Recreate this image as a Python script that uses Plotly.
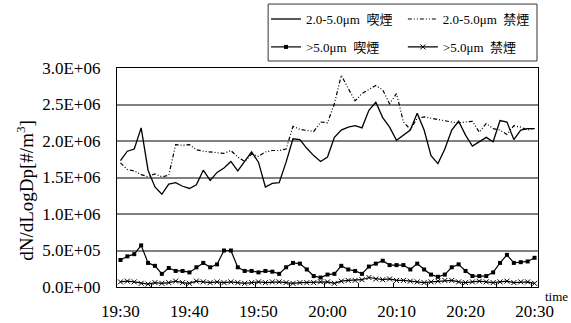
import plotly.graph_objects as go

# Time axis: one reading per minute from 19:30 to 20:30
minutes = list(range(61))
label_minutes = list(range(0, 61, 10))
tick_labels = [f"{19 + (30 + m) // 60}:{(30 + m) % 60:02d}" for m in label_minutes]
boundary_ticks = [m - 0.5 for m in range(5, 61, 5)]

UNIT = 1e6  # values below are in millions of particles

# 2.0-5.0 um, smoking
smoking_2_5 = [1.73, 1.86, 1.89, 2.18, 1.60, 1.37, 1.27, 1.41, 1.43, 1.38,
               1.35, 1.40, 1.60, 1.46, 1.57, 1.63, 1.72, 1.59, 1.72, 1.85,
               1.71, 1.37, 1.42, 1.43, 1.71, 2.03, 2.02, 1.90, 1.80, 1.72,
               1.78, 2.05, 2.15, 2.19, 2.21, 2.18, 2.42, 2.53, 2.32, 2.19,
               2.01, 2.08, 2.15, 2.38, 2.15, 1.80, 1.69, 1.89, 2.15, 2.27,
               2.08, 1.93, 1.99, 2.05, 1.99, 2.28, 2.26, 2.02, 2.15, 2.17,
               2.17]
# 2.0-5.0 um, no smoking
nonsmoking_2_5 = [1.70, 1.61, 1.59, 1.54, 1.51, 1.55, 1.51, 1.53, 1.95, 1.94,
                  1.95, 1.88, 1.86, 1.85, 1.83, 1.83, 1.87, 1.78, 1.72, 1.82,
                  1.79, 1.85, 1.87, 1.87, 1.89, 2.20, 2.16, 2.14, 2.13, 2.26,
                  2.25, 2.51, 2.90, 2.72, 2.55, 2.65, 2.71, 2.76, 2.70, 2.51,
                  2.65, 2.26, 2.16, 2.31, 2.33, 2.31, 2.29, 2.27, 2.26, 2.25,
                  2.26, 2.27, 2.12, 2.24, 2.17, 2.15, 2.09, 2.21, 2.19, 2.15,
                  2.17]
# >5.0 um, smoking
smoking_5 = [0.37, 0.42, 0.45, 0.57, 0.33, 0.29, 0.18, 0.26, 0.22, 0.22,
             0.20, 0.27, 0.33, 0.27, 0.31, 0.50, 0.50, 0.27, 0.22, 0.22,
             0.20, 0.22, 0.21, 0.18, 0.27, 0.33, 0.32, 0.24, 0.15, 0.13,
             0.17, 0.18, 0.29, 0.24, 0.22, 0.18, 0.28, 0.32, 0.36, 0.30,
             0.30, 0.30, 0.24, 0.32, 0.24, 0.17, 0.14, 0.17, 0.27, 0.31,
             0.22, 0.15, 0.15, 0.15, 0.20, 0.33, 0.44, 0.33, 0.34, 0.35,
             0.40]
# >5.0 um, no smoking
nonsmoking_5 = [0.07, 0.08, 0.07, 0.05, 0.04, 0.06, 0.05, 0.06, 0.08, 0.06,
                0.05, 0.08, 0.07, 0.06, 0.07, 0.06, 0.07, 0.06, 0.05, 0.06,
                0.07, 0.06, 0.07, 0.07, 0.06, 0.05, 0.06, 0.06, 0.06, 0.07,
                0.07, 0.05, 0.08, 0.09, 0.09, 0.10, 0.13, 0.11, 0.10, 0.11,
                0.09, 0.09, 0.08, 0.07, 0.06, 0.07, 0.08, 0.09, 0.09, 0.07,
                0.06, 0.07, 0.08, 0.07, 0.06, 0.07, 0.08, 0.06, 0.07, 0.07,
                0.05]

y_ticks = [v * 0.5 * UNIT for v in range(7)]
y_labels = [f"{v:.1E}" for v in y_ticks]

FONT = "Liberation Serif, DejaVu Serif, Noto Sans CJK JP, serif"
SP = "\u00a0\u00a0"

def scaled(values):
    return [v * UNIT for v in values]

fig = go.Figure()
fig.add_trace(go.Scatter(
    x=minutes, y=scaled(smoking_2_5), mode="lines",
    name=f"2.0-5.0μm{SP}喫煙", legend="legend", legendgroup="a",
    line=dict(color="black", width=1.3)))
fig.add_trace(go.Scatter(
    x=minutes, y=scaled(smoking_5), mode="lines+markers",
    name=f">5.0μm{SP}喫煙", legend="legend", legendgroup="b",
    line=dict(color="black", width=1.2),
    marker=dict(symbol="square", size=4, color="black")))
fig.add_trace(go.Scatter(
    x=minutes, y=scaled(nonsmoking_2_5), mode="lines",
    name=f"2.0-5.0μm{SP}禁煙", legend="legend2", legendgroup="c",
    line=dict(color="black", width=1.2, dash="4px,2px,1px,2px,1px,2px")))
fig.add_trace(go.Scatter(
    x=minutes, y=scaled(nonsmoking_5), mode="lines+markers",
    name=f">5.0μm{SP}禁煙", legend="legend2", legendgroup="d",
    line=dict(color="black", width=1.2),
    marker=dict(symbol="x-thin", size=5, color="black",
                line=dict(color="black", width=1))))

legend_style = dict(
    orientation="v", xanchor="left", yanchor="top", y=1.292,
    bgcolor="rgba(0,0,0,0)", borderwidth=0,
    font=dict(family=FONT, size=13, color="black"),
    traceorder="grouped", tracegroupgap=8, itemwidth=30,
)
tick_font = dict(family=FONT, size=17, color="black")

fig.update_layout(
    width=571, height=323,
    margin=dict(l=117, r=33, t=68, b=36, autoexpand=False),
    paper_bgcolor="white", plot_bgcolor="white",
    font=dict(family=FONT, size=17, color="black"),
    showlegend=True,
    legend=dict(x=0.354, **legend_style),
    legend2=dict(x=0.679, **legend_style),
    xaxis=dict(
        range=[-0.5, 60.5], tickmode="array", tickvals=label_minutes,
        ticktext=tick_labels, ticks="", showgrid=False, zeroline=False,
        showline=True, linecolor="black", linewidth=1.4, mirror=True,
        ticklabelstandoff=8, tickfont=tick_font,
        minor=dict(tickmode="array", tickvals=boundary_ticks, ticks="inside",
                   ticklen=4, tickcolor="black", tickwidth=1, showgrid=False),
    ),
    yaxis=dict(
        range=[0, 3 * UNIT], tickmode="array", tickvals=y_ticks,
        ticktext=y_labels, ticks="outside", ticklen=12,
        tickcolor="rgba(0,0,0,0)", showgrid=True, gridcolor="#808080",
        gridwidth=1.6, zeroline=False, showline=True, linecolor="black",
        linewidth=1.4, mirror=True, tickfont=tick_font,
    ),
    shapes=[dict(type="rect", xref="paper", yref="paper",
                 x0=0.359, x1=0.9976, y0=1.032, y1=1.292,
                 line=dict(color="#333333", width=1), fillcolor="rgba(0,0,0,0)")],
    annotations=[
        dict(text="dN/dLogDp[#/m<sup>3</sup>]", textangle=-90,
             xref="paper", yref="paper", x=-0.219, y=0.443,
             xanchor="center", yanchor="middle", showarrow=False,
             font=dict(family=FONT, size=19, color="black")),
        dict(text="time", xref="paper", yref="paper", x=1.044, y=-0.042,
             xanchor="center", yanchor="middle", showarrow=False,
             font=dict(family=FONT, size=13, color="black")),
    ],
)

fig.write_html("out.html")
